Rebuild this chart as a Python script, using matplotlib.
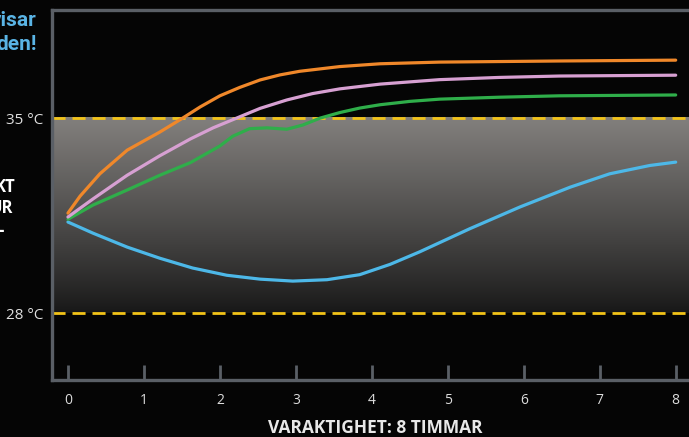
import numpy as np
import matplotlib
matplotlib.use("Agg")
import matplotlib.pyplot as plt

# hours on the x axis, temperature in deg C
orange_h = [0, 0.16, 0.42, 0.78, 1.21, 1.51, 1.74, 2.0, 2.26, 2.53, 2.79, 3.05, 3.58,
            4.11, 4.89, 6.47, 8.0]
orange_t = [31.59, 32.2, 33.0, 33.85, 34.5, 35.0, 35.4, 35.8, 36.1, 36.37, 36.55,
            36.68, 36.85, 36.95, 37.01, 37.05, 37.08]

pink_h = [0, 0.33, 0.78, 1.21, 1.61, 1.91, 2.22, 2.53, 2.88, 3.22, 3.58, 4.11, 4.89,
          5.68, 6.47, 8.0]
pink_t = [31.45, 32.1, 32.95, 33.65, 34.25, 34.65, 35.0, 35.35, 35.65, 35.88, 36.05,
          36.22, 36.38, 36.46, 36.51, 36.54]

green_h = [0, 0.33, 0.78, 1.21, 1.61, 2.0, 2.17, 2.39, 2.62, 2.88, 3.09, 3.32, 3.58,
           3.84, 4.11, 4.5, 4.89, 5.68, 6.47, 8.0]
green_t = [31.37, 31.88, 32.42, 32.95, 33.4, 34.0, 34.35, 34.62, 34.65, 34.6, 34.75,
           35.0, 35.2, 35.36, 35.48, 35.6, 35.68, 35.75, 35.8, 35.83]

blue_h = [0, 0.33, 0.78, 1.21, 1.64, 2.09, 2.53, 2.96, 3.41, 3.84, 4.24, 4.63, 5.29,
          5.95, 6.61, 7.13, 7.66, 8.0]
blue_t = [31.27, 30.87, 30.37, 29.97, 29.62, 29.36, 29.22, 29.15, 29.2, 29.38, 29.75,
          30.2, 31.03, 31.81, 32.52, 33.0, 33.3, 33.42]

limits = [28, 35]
limit_labels = ["28 °C", "35 °C"]
hours = list(range(9))

bg = "#050505"
fig = plt.figure(figsize=(6.89, 4.37), dpi=100, facecolor=bg)
ax = fig.add_axes([52 / 689, 57 / 437, 648 / 689, 370 / 437])
ax.set_facecolor(bg)
xmin, xmax = -0.21, 8.32
ax.set_xlim(xmin, xmax)
ax.set_ylim(25.6, 38.88)

# grey gradient band between the two limits
grad = np.linspace(0, 1, 256).reshape(-1, 1) ** 0.9
top = np.array([0.51, 0.50, 0.49])
bot = np.array([0.09, 0.09, 0.09])
img = bot + (top - bot) * grad[..., None]
ax.imshow(img, extent=[xmin, xmax, limits[0], limits[1]], origin="lower",
          aspect="auto", zorder=0, interpolation="bilinear")

for lv in limits:
    ax.axhline(lv, color="#f2c318", lw=2, linestyle=(0, (4.7, 2.5)), zorder=2)

lw = 2.3
kw = dict(lw=lw, solid_capstyle="round", solid_joinstyle="round")
ax.plot(blue_h, blue_t, color="#4db8e8", zorder=3, **kw)
ax.plot(green_h, green_t, color="#2fae4a", zorder=4, **kw)
ax.plot(pink_h, pink_t, color="#d7a0d2", zorder=5, **kw)
ax.plot(orange_h, orange_t, color="#f0882a", zorder=6, **kw)

spine_c = "#5a5f66"
for s in ["left", "top", "bottom"]:
    ax.spines[s].set_color(spine_c)
    ax.spines[s].set_linewidth(2.4)
ax.spines["right"].set_visible(False)

ax.set_xticks(hours)
ax.set_xticklabels([str(h) for h in hours], fontfamily="Open Sans", fontsize=10,
                   color="#dcdcdc")
ax.tick_params(axis="x", direction="in", length=11, width=2, color=spine_c, pad=9)
ax.set_yticks(limits)
ax.set_yticklabels(limit_labels, fontfamily="Open Sans", fontsize=11, color="#e0e0e0")
ax.tick_params(axis="y", length=0, pad=6)

fig.text(375 / 689, 1 - 428 / 437, "VARAKTIGHET: 8 TIMMAR", ha="center", va="center",
         fontfamily="Open Sans", fontweight="bold", fontsize=12.5, color="#e8e8e8")

# cut-off annotations on the left edge
fig.text(37 / 689, 1 - 20 / 437, "visar", ha="right", va="center", fontfamily="Roboto",
         fontweight="bold", fontsize=15, color="#5ab4e5")
fig.text(37 / 689, 1 - 44 / 437, "den!", ha="right", va="center", fontfamily="Roboto",
         fontweight="bold", fontsize=15, color="#5ab4e5")
fig.text(15 / 689, 1 - 187 / 437, "KT", ha="right", va="center", fontfamily="Open Sans",
         fontweight="bold", fontsize=12, color="white")
fig.text(13 / 689, 1 - 208 / 437, "UR", ha="right", va="center", fontfamily="Open Sans",
         fontweight="bold", fontsize=12, color="white")
fig.text(4 / 689, 1 - 231 / 437, "-", ha="right", va="center", fontfamily="Open Sans",
         fontweight="bold", fontsize=12, color="white")

fig.savefig("out.png", dpi=100, facecolor=bg)
